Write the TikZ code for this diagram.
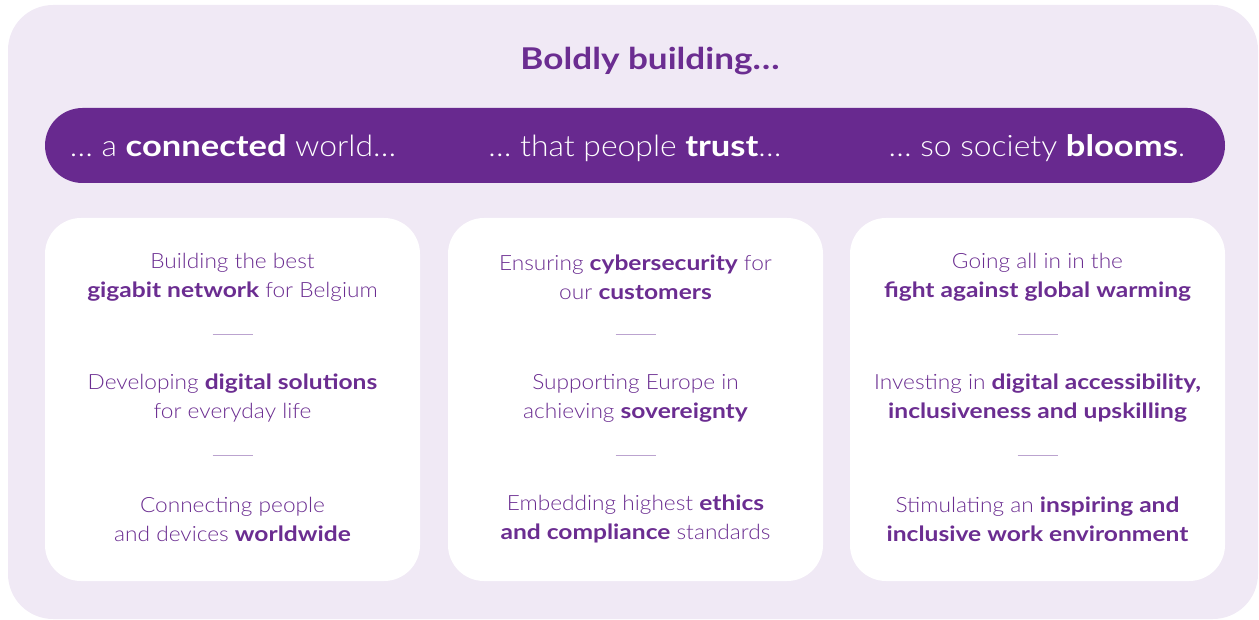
\documentclass[tikz,border=0pt]{standalone}
\usepackage{fontspec}
\setmainfont{Lato}[UprightFont=* Light, BoldFont=* Bold,
  UprightFeatures={FakeStretch=1.08}, BoldFeatures={FakeStretch=1.17}]
\definecolor{panelbg}{HTML}{F0E9F5}
\definecolor{bandpurple}{HTML}{68298F}
\definecolor{txtpurple}{HTML}{6B2D91}
\definecolor{seppurple}{HTML}{BBA3CF}
\tikzset{
  panel/.style={fill=panelbg, draw=none},
  band/.style={fill=bandpurple, rounded corners=37.5pt, minimum width=1180pt,
    minimum height=75pt, inner sep=0pt},
  card/.style={fill=white, rounded corners=36pt, minimum width=375pt,
    minimum height=363pt, inner sep=0pt},
  title/.style={text=txtpurple, font=\fontsize{30}{34}\selectfont\bfseries, inner sep=0pt},
  bandtxt/.style={text=white, font=\fontsize{29.5}{34}\selectfont, inner sep=0pt},
  item/.style={text=txtpurple, font=\fontsize{21}{29}\selectfont, align=center, inner sep=0pt},
  sepline/.style={draw=seppurple, line width=1pt}
}
\begin{document}
\begin{tikzpicture}[x=1pt,y=-1pt]
  \useasboundingbox (0,0) rectangle (1259,620);
  % background panel
  \fill[panel, rounded corners=45pt] (8,5) rectangle (1258,619);
  % heading
  \node[title, anchor=base] (head) at (650,70) {Boldly building\ldots};
  % purple band with three phrases
  \node[band] (band) at (635,145.5) {};
  \node[bandtxt, anchor=base] (p1) at (233,157) {\ldots\ a \textbf{connected} world\ldots};
  \node[bandtxt, anchor=base] (p2) at (635,157) {\ldots\ that people \textbf{trust}\ldots};
  \node[bandtxt, anchor=base] (p3) at (1037,157) {\ldots\ so society \textbf{blooms}.};
  % three cards
  \node[card] (c1) at (232.5,399.5) {};
  \node[card] (c2) at (635.5,399.5) {};
  \node[card] (c3) at (1037.5,399.5) {};
  % card 1
  \node[item] (a1) at (c1.center |- 0,277) {Building the best\\\textbf{gigabit network} for Belgium};
  \node[item] (a2) at (c1.center |- 0,398) {Developing \textbf{digital solutions}\\for everyday life};
  \node[item] (a3) at (c1.center |- 0,519) {Connecting people\\and devices \textbf{worldwide}};
  % card 2
  \node[item] (b1) at (c2.center |- 0,277) {Ensuring \textbf{cybersecurity} for\\our \textbf{customers}};
  \node[item] (b2) at (c2.center |- 0,398) {Supporting Europe in\\achieving \textbf{sovereignty}};
  \node[item] (b3) at (c2.center |- 0,519) {Embedding highest \textbf{ethics}\\\textbf{and compliance} standards};
  % card 3
  \node[item] (d1) at (c3.center |- 0,277) {Going all in in the\\\textbf{fight against global warming}};
  \node[item] (d2) at (c3.center |- 0,398) {Investing in \textbf{digital accessibility,}\\\textbf{inclusiveness and upskilling}};
  \node[item] (d3) at (c3.center |- 0,519) {Stimulating an \textbf{inspiring and}\\\textbf{inclusive work environment}};
  % separators between items
  \foreach \c in {c1,c2,c3}{
    \coordinate (\c s1) at (\c.center |- 0,335);
    \coordinate (\c s2) at (\c.center |- 0,455);
    \draw[sepline] ([xshift=-20pt]\c s1) -- ([xshift=20pt]\c s1);
    \draw[sepline] ([xshift=-20pt]\c s2) -- ([xshift=20pt]\c s2);
  }
\end{tikzpicture}
\end{document}
